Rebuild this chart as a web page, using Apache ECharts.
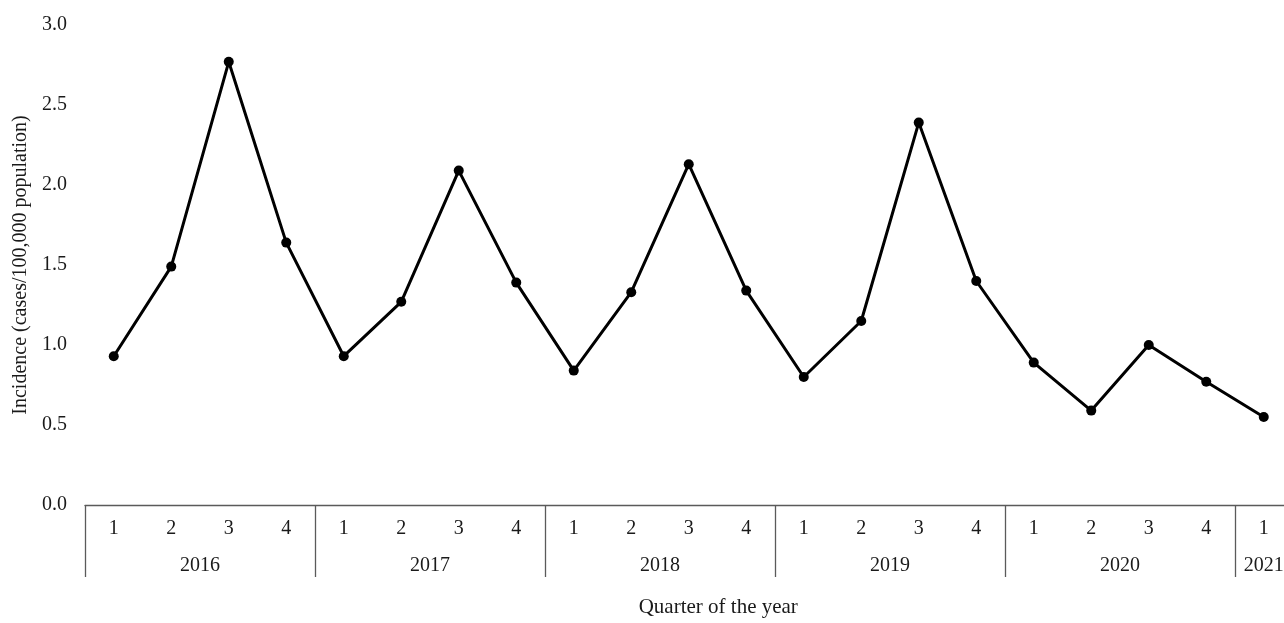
<!DOCTYPE html>
<html>
<head>
<meta charset="utf-8">
<script src="https://cdn.jsdelivr.net/npm/echarts@6/dist/echarts.min.js"></script>
<style>
  html, body { margin: 0; padding: 0; background: #ffffff; }
  #chart { width: 1284px; height: 623px; }
</style>
</head>
<body>
<div id="chart"></div>
<script>
// ---- data ----
const years = ['2016', '2017', '2018', '2019', '2020', '2021'];
const quartersPerYear = [4, 4, 4, 4, 4, 1];
const quarterLabels = ['1','2','3','4', '1','2','3','4', '1','2','3','4', '1','2','3','4', '1','2','3','4', '1'];
const incidence = [0.93, 1.49, 2.77, 1.64,
                   0.93, 1.27, 2.09, 1.39,
                   0.84, 1.33, 2.13, 1.34,
                   0.80, 1.15, 2.39, 1.40,
                   0.89, 0.59, 1.00, 0.77,
                   0.55];
const yTicks = [0, 0.5, 1.0, 1.5, 2.0, 2.5, 3.0];
const xTitle = 'Quarter of the year';
const yTitle = 'Incidence (cases/100,000 population)';

// year label centres in category units (each category spans [i, i+1])
const yearCentres = {};
let start = 0;
years.forEach((y, i) => {
  yearCentres[(start + quartersPerYear[i] / 2).toFixed(1)] = y;
  start += quartersPerYear[i];
});
const FONT = "'Liberation Serif', 'Times New Roman', serif";
const TEXT = '#1a1a1a';

const chart = echarts.init(document.getElementById('chart'));
chart.setOption({
  animation: false,
  backgroundColor: '#ffffff',
  grid: { left: 85, top: 25, bottom: 118, width: 1207.5, containLabel: false, outerBoundsMode: 'none' },
  xAxis: [
    {
      type: 'category',
      data: quarterLabels,
      boundaryGap: true,
      position: 'bottom',
      axisLine: { show: true, lineStyle: { color: '#5a5a5a', width: 1.3 } },
      axisTick: {
        show: true,
        length: 72,
        interval: function (index) { return quarterLabels[index] === '1' || index === quarterLabels.length; },
        lineStyle: { color: '#5a5a5a', width: 1.3 }
      },
      axisLabel: { interval: 0, margin: 14, fontFamily: FONT, fontSize: 20, color: TEXT },
      splitLine: { show: false },
      name: xTitle,
      nameLocation: 'middle',
      nameGap: 92,
      nameTextStyle: { fontFamily: FONT, fontSize: 21, color: TEXT, padding: [0, 0, 0, 59] }
    },
    {
      type: 'value',
      min: 0,
      max: quarterLabels.length,
      interval: 0.5,
      position: 'bottom',
      axisLine: { show: false },
      axisTick: { show: false },
      splitLine: { show: false },
      axisLabel: {
        margin: 51,
        fontFamily: FONT, fontSize: 20, color: TEXT,
        formatter: function (v) { return yearCentres[Number(v).toFixed(1)] || ''; }
      }
    }
  ],
  yAxis: {
    type: 'value',
    min: yTicks[0],
    max: yTicks[yTicks.length - 1],
    interval: 0.5,
    axisLine: { show: false },
    axisTick: { show: false },
    splitLine: { show: false },
    axisLabel: {
      margin: 18, fontFamily: FONT, fontSize: 20, color: TEXT,
      formatter: function (v) { return Number(v).toFixed(1); }
    },
    name: yTitle,
    nameLocation: 'middle',
    nameGap: 53,
    nameTextStyle: { fontFamily: FONT, fontSize: 20, color: TEXT }
  },
  series: [{
    type: 'line',
    xAxisIndex: 0,
    data: incidence,
    symbol: 'circle',
    symbolSize: 10,
    itemStyle: { color: '#000000' },
    lineStyle: { color: '#000000', width: 3 }
  }]
});
</script>
</body>
</html>
